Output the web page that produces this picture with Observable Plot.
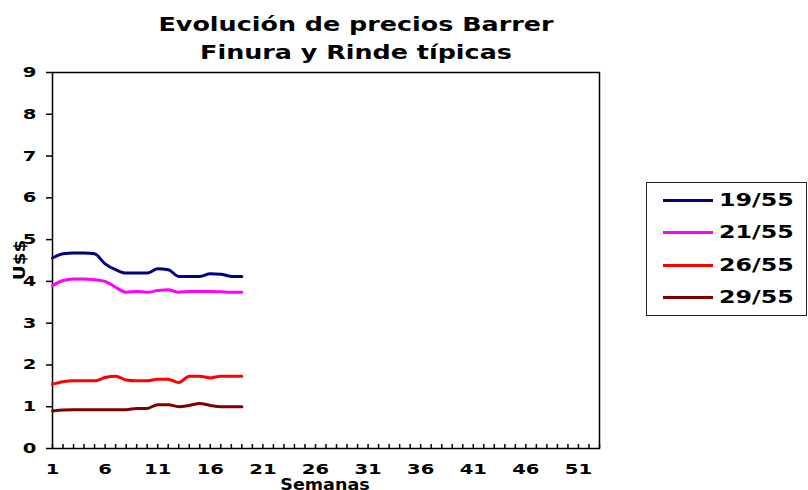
<!DOCTYPE html>
<html><head><meta charset="utf-8">
<script src="https://cdn.jsdelivr.net/npm/d3@7"></script>
<script src="https://cdn.jsdelivr.net/npm/@observablehq/plot@0.6"></script>
<style>
body{margin:0;background:#fff;}
#wrap{position:relative;width:808px;height:490px;overflow:hidden;font-family:"DejaVu Sans",Verdana,sans-serif;font-weight:bold;color:#000;background:#fff;}
#wrap svg{position:absolute;left:0;top:0;}
#title{position:absolute;left:0;width:712px;top:10px;text-align:center;font-size:20px;line-height:28px;transform:scaleX(1.27);transform-origin:356px 0;}
#ylab{position:absolute;left:20px;top:260px;font-size:15px;transform:translate(-50%,-50%) rotate(-90deg) scaleX(1.22);white-space:nowrap;}
#xlab{position:absolute;left:325px;top:485px;font-size:15px;transform:translate(-50%,-50%) scaleX(1.17);white-space:nowrap;}
#legend{position:absolute;left:646px;top:182px;width:159px;height:132px;border:1.5px solid #222;}
.item{position:absolute;left:16px;height:20px;}
.sw{position:absolute;left:0;top:9px;width:50px;height:3px;}
.lt{position:absolute;left:56px;top:-1px;font-size:18px;line-height:22px;white-space:nowrap;transform:scaleX(1.32);transform-origin:0 0;}
</style></head>
<body>
<div id="wrap">
  <div id="title">Evolución de precios Barrer<br>Finura y Rinde típicas</div>
  <div id="ylab">U$$</div>
  <div id="xlab">Semanas</div>
  <div id="legend"></div>
</div>
<script>
const weeks = [1,2,3,4,5,6,7,8,9,10,11,12,13,14,15,16,17,18,19];
const series = ["19/55", "21/55", "26/55", "29/55"];
const colors = ["#000080", "#FF00FF", "#FF0000", "#800000"];
const s19 = [4.56, 4.66, 4.68, 4.68, 4.66, 4.42, 4.28, 4.20, 4.20, 4.20, 4.30, 4.28, 4.12, 4.12, 4.12, 4.18, 4.17, 4.12, 4.12];
const s21 = [3.90, 4.02, 4.06, 4.06, 4.04, 4.00, 3.86, 3.74, 3.76, 3.74, 3.78, 3.80, 3.74, 3.76, 3.76, 3.76, 3.75, 3.74, 3.74];
const s26 = [1.54, 1.60, 1.62, 1.62, 1.62, 1.70, 1.73, 1.64, 1.62, 1.62, 1.66, 1.66, 1.58, 1.73, 1.73, 1.69, 1.73, 1.73, 1.73];
const s29 = [0.90, 0.92, 0.93, 0.93, 0.93, 0.93, 0.93, 0.93, 0.96, 0.96, 1.05, 1.05, 1.00, 1.03, 1.08, 1.03, 1.00, 1.00, 1.00];
const xTickLabels = [1, 6, 11, 16, 21, 26, 31, 36, 41, 46, 51];
const xMinorTicks = d3.range(1, 54);
const yTicks = [0, 1, 2, 3, 4, 5, 6, 7, 8, 9];

const allSeries = [s19, s21, s26, s29];
const data = [];
series.forEach((name, i) => weeks.forEach((w, j) => data.push({series: name, week: w, value: allSeries[i][j]})));

const chart = Plot.plot({
  width: 808, height: 490,
  marginLeft: 52, marginRight: 209, marginTop: 72, marginBottom: 42,
  style: {fontFamily: "'DejaVu Sans', sans-serif", fontWeight: "bold", fontSize: "14px", color: "#000", background: "transparent", overflow: "visible"},
  x: {domain: [1, 53]},
  y: {domain: [0, 9]},
  color: {domain: series, range: colors},
  marks: [
    Plot.frame({stroke: "#000", strokeWidth: 1.5}),
    Plot.axisY(yTicks, {tickSize: 6, tickPadding: 10, label: null, strokeWidth: 1.5}),
    Plot.axisX(xMinorTicks, {tickSize: -4, tickFormat: () => "", label: null, strokeWidth: 1.5}),
    Plot.axisX(xTickLabels, {tickSize: 0, tickPadding: 16, label: null}),
    Plot.line(data, {x: "week", y: "value", z: "series", stroke: "series", strokeWidth: 3, curve: "monotone-x"})
  ]
});
// widen tick label glyphs (reference text is horizontally stretched)
chart.querySelectorAll('g[aria-label="x-axis tick label"] text, g[aria-label="y-axis tick label"] text').forEach(t => {
  const tr = t.getAttribute("transform");
  if (tr) t.setAttribute("transform", tr + " scale(1.4,1)");
});
document.getElementById("wrap").insertBefore(chart, document.getElementById("title"));

const legend = document.getElementById("legend");
series.forEach((name, i) => {
  const item = document.createElement("div");
  item.className = "item";
  item.style.top = (7 + i * 32.3) + "px";
  item.innerHTML = `<div class="sw" style="background:${colors[i]}"></div><div class="lt">${name}</div>`;
  legend.appendChild(item);
});
</script>
</body></html>
